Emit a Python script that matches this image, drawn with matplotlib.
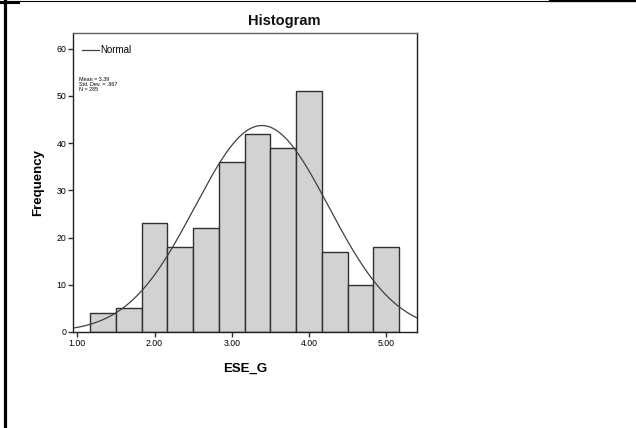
import numpy as np
import matplotlib
matplotlib.use("Agg")
import matplotlib.pyplot as plt
from matplotlib.lines import Line2D

plt.rcParams['font.family'] = ['Liberation Sans', 'DejaVu Sans']

# ESE_G histogram, bins of width 1/3
bin_edges = [7/6 + i / 3 for i in range(13)]
counts = [4, 5, 23, 18, 22, 36, 42, 39, 51, 17, 10, 18]
mean = 3.39
std_dev = 0.867
n = 285
x_ticks = [1, 2, 3, 4, 5]
y_ticks = [0, 10, 20, 30, 40, 50, 60]

fig = plt.figure(figsize=(6.36, 4.28), dpi=100)
ax = fig.add_axes([0.1148, 0.2243, 0.5409, 0.6986])

widths = np.diff(bin_edges)
ax.bar(bin_edges[:-1], counts, width=widths, align='edge',
       color='#d2d2d2', edgecolor='#303030', linewidth=1.0, zorder=2)

# fitted normal curve scaled to counts
bw = widths[0]
xs = np.linspace(0.94, 5.41, 400)
ys = n * bw / (std_dev * np.sqrt(2 * np.pi)) * np.exp(-0.5 * ((xs - mean) / std_dev) ** 2)
ax.plot(xs, ys, color='#404040', linewidth=0.9, zorder=3)

ax.set_xlim(0.944, 5.40)
ax.set_ylim(0, 63.3)
ax.set_xticks(x_ticks)
ax.set_xticklabels([f"{t:.2f}" for t in x_ticks])
ax.set_yticks(y_ticks)
ax.tick_params(direction='out', length=3.3, width=1, labelsize=6.3, pad=1.5, color='#303030')

for side in ['top', 'right', 'bottom', 'left']:
    ax.spines[side].set_linewidth(1.0)
    ax.spines[side].set_color('#202020')
ax.spines['top'].set_color('#606060')

fig.text(284.5 / 636, 1 - 21 / 428, "Histogram", fontsize=10.5, fontweight='bold',
         ha='center', va='center', color='#111111')
ax.set_ylabel("Frequency", fontsize=9.5, fontweight='bold', labelpad=9)
ax.set_xlabel("ESE_G", fontsize=9.5, fontweight='bold', labelpad=11)

# legend and summary statistics
ax.plot([0.026, 0.076], [0.942, 0.942], transform=ax.transAxes, color='#404040', linewidth=0.9)
ax.text(0.08, 0.942, "Normal", transform=ax.transAxes, fontsize=7, va='center', ha='left')
ax.text(0.017, 0.853, f"Mean = {mean:.2f}\nStd. Dev. = {str(std_dev)[1:]}\nN = {n}",
        transform=ax.transAxes, fontsize=3.9, va='top', ha='left', linespacing=1.0)

# page border
fig.add_artist(Line2D([4.5 / 636, 4.5 / 636], [0, 1], color='black', linewidth=2.3))
fig.add_artist(Line2D([0, 1], [1 - 0.5 / 428, 1 - 0.5 / 428], color='black', linewidth=0.8))
fig.add_artist(Line2D([0, 18 / 636], [1 - 1.5 / 428, 1 - 1.5 / 428], color='black', linewidth=2.2))
fig.add_artist(Line2D([550 / 636, 1], [1 - 1 / 428, 1 - 1 / 428], color='black', linewidth=1.6))

fig.savefig("out.png", dpi=100)
